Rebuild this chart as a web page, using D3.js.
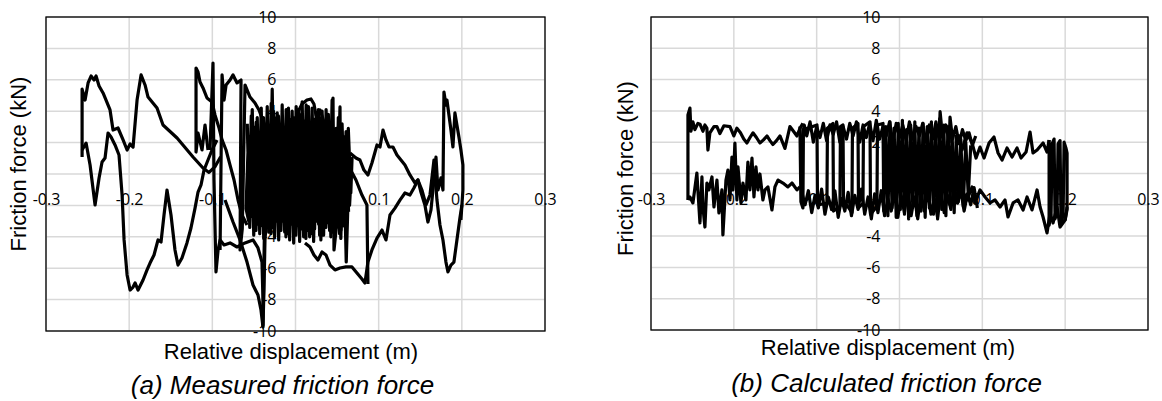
<!DOCTYPE html>
<html>
<head>
<meta charset="utf-8">
<script src="https://cdn.jsdelivr.net/npm/d3@7"></script>
<style>
  body { margin: 0; background: #fff; }
</style>
</head>
<body>
<svg id="chart" width="1162" height="401"></svg>
<script>
// axis ticks
const xTicks = [-0.3, -0.2, -0.1, 0, 0.1, 0.2, 0.3];
const yTicks = [-10, -8, -6, -4, -2, 0, 2, 4, 6, 8, 10];
const xTickLabels = [-0.3, -0.2, -0.1, 0.1, 0.2, 0.3];
const yTickLabels = [-10, -8, -6, -4, -2, 2, 4, 6, 8, 10];

const xTitle = "Relative displacement (m)";
const yTitle = "Friction force (kN)";
const captions = ["(a) Measured friction force", "(b) Calculated friction force"];

// ---- (a) measured friction force, [displacement m, force kN] ----
const measuredLoopA = [[-0.2566,1.08],[-0.2566,5.41],[-0.2530,4.71],[-0.2494,5.80],[-0.2458,6.24],[-0.2422,5.99],[-0.2398,6.24],[-0.2362,5.61],[-0.2314,5.16],[-0.2278,4.71],[-0.2230,4.08],[-0.2194,2.80],[-0.2134,2.93],[-0.2073,2.17],[-0.2025,1.53],[-0.1989,1.91],[-0.1953,1.72],[-0.1905,4.71],[-0.1857,6.31],[-0.1809,5.67],[-0.1773,4.90],[-0.1665,4.20],[-0.1593,3.12],[-0.1424,2.29],[-0.1232,1.08],[-0.1112,0.38],[-0.1040,0.10],[-0.0970,0.45],[-0.0900,1.10]];
const measuredLoopA2 = [[-0.2566,1.53],[-0.2518,1.97],[-0.2470,0.57],[-0.2410,-1.97],[-0.2362,-0.25],[-0.2326,0.76],[-0.2290,1.02],[-0.2254,2.61],[-0.2218,2.36],[-0.2170,1.85],[-0.2122,1.21],[-0.2085,-1.34],[-0.2061,-4.20],[-0.2025,-6.43],[-0.1989,-7.39],[-0.1953,-7.20],[-0.1929,-6.94],[-0.1893,-7.39],[-0.1833,-6.75],[-0.1785,-6.11],[-0.1749,-5.67],[-0.1701,-5.16],[-0.1653,-4.20],[-0.1617,-4.33],[-0.1581,-2.61],[-0.1545,-1.02],[-0.1497,-2.61],[-0.1449,-4.84],[-0.1413,-5.80],[-0.1365,-5.35],[-0.1305,-4.39],[-0.1257,-3.44],[-0.1208,-2.17],[-0.1172,-1.15],[-0.1136,-0.70],[-0.1100,0.25],[-0.1052,0.89],[-0.1004,1.53],[-0.0944,2.17]];
const measuredLoopB = [[-0.1052,1.53],[-0.1088,3.12],[-0.1124,1.53],[-0.1172,2.61],[-0.1196,1.40],[-0.1196,6.75],[-0.1172,6.50],[-0.1148,5.86],[-0.1112,5.48],[-0.1064,4.84],[-0.1004,4.59],[-0.0968,3.76],[-0.0919,2.93],[-0.0883,2.17],[-0.0835,1.53],[-0.0787,0.57],[-0.0739,-0.38],[-0.0691,-1.66],[-0.0643,-2.61],[-0.0583,-3.25]];
const measuredLoopB2 = [[-0.0907,-4.84],[-0.0895,0.89],[-0.0883,6.31],[-0.0859,4.71],[-0.0835,5.67],[-0.0787,5.99],[-0.0751,6.31],[-0.0703,5.80],[-0.0655,5.99],[-0.0667,-4.84],[-0.0640,-3.50],[-0.0607,5.67],[-0.0547,4.90],[-0.0487,4.52],[-0.0439,4.08],[-0.0403,3.57],[-0.0355,2.93],[-0.0307,2.17],[-0.0247,1.21]];
const measuredSpike = [[-0.1028,1.53],[-0.0992,7.07],[-0.0980,-0.38],[-0.0956,-6.24],[-0.0931,-4.84],[-0.0907,-4.20],[-0.0859,-4.52],[-0.0787,-4.39],[-0.0703,-4.65],[-0.0607,-4.39],[-0.0511,-4.20],[-0.0451,-4.71],[-0.0403,-5.61],[-0.0391,-8.03],[-0.0391,-9.62],[-0.0379,-7.39],[-0.0367,-4.20],[-0.0343,-2.50]];
const measuredDrop = [[-0.0847,-1.66],[-0.0751,-3.06],[-0.0667,-4.20],[-0.0583,-5.61],[-0.0511,-7.07],[-0.0451,-7.71],[-0.0415,-8.66],[-0.0391,-9.75],[-0.0379,-5.48],[-0.0367,-1.66]];
// dense central part, going right, back left, then right again
const measuredCore = [[-0.058,3.2],[-0.055,-3.4],[-0.052,4.1],[-0.049,-2.9],[-0.046,3.6],[-0.043,-3.8],[-0.040,2.8],[-0.037,-3.5],[-0.034,4.3],[-0.031,-3.1],[-0.028,5.4],[-0.025,-4.0],[-0.022,3.9],[-0.019,-3.3],[-0.016,4.4],[-0.013,-3.7],[-0.010,3.3],[-0.007,-4.2],[-0.004,4.0],[-0.001,-3.6],[0.002,3.7],[0.005,-4.3],[0.008,4.6],[0.011,-3.2],[0.014,3.9],[0.017,-4.0],[0.020,4.2],[0.023,-3.5],[0.026,3.4],[0.029,-3.9],[0.032,4.0],[0.035,-2.8],[0.038,3.1],[0.041,-3.6],[0.044,4.7],[0.047,-3.0],[0.050,2.6],[0.053,-3.8],[0.056,3.2],[0.059,-2.6],[0.062,2.3],[0.065,-2.0],[0.068,1.0],
  [0.0665,-1.2],[0.0635,2.9],[0.0605,-3.1],[0.0575,2.4],[0.0545,-4.1],[0.0515,3.6],[0.0485,-3.3],[0.0455,2.9],[0.0425,-4.0],[0.0395,3.8],[0.0365,-3.4],[0.0335,3.2],[0.0305,-4.2],[0.0275,4.1],[0.0245,-3.0],[0.0215,3.5],[0.0185,-3.8],[0.0155,4.3],[0.0125,-4.1],[0.0095,3.4],[0.0065,-3.5],[0.0035,4.1],[0.0005,-3.9],[-0.0025,3.6],[-0.0055,-3.2],[-0.0085,4.2],[-0.0115,-4.0],[-0.0145,3.0],[-0.0175,-3.6],[-0.0205,3.7],[-0.0235,-3.0],[-0.0265,4.0],[-0.0295,-3.8],[-0.0325,3.1],[-0.0355,-2.8],[-0.0385,3.6],[-0.0415,-3.3],[-0.0445,2.6],[-0.0475,-3.6],[-0.0505,3.0],[-0.0535,-2.7],[-0.0565,2.4],[-0.0595,-2.2],
  [-0.0562,-3.0],[-0.0532,3.7],[-0.0502,-3.9],[-0.0472,3.3],[-0.0442,-3.2],[-0.0412,4.2],[-0.0382,-4.1],[-0.0352,3.0],[-0.0322,-3.7],[-0.0292,4.5],[-0.0262,-3.4],[-0.0232,3.6],[-0.0202,-4.2],[-0.0172,3.2],[-0.0142,-3.0],[-0.0112,4.1],[-0.0082,-3.8],[-0.0052,3.5],[-0.0022,-4.4],[0.0008,4.3],[0.0038,-3.3],[0.0068,3.8],[0.0098,-4.0],[0.0128,4.4],[0.0158,-3.6],[0.0188,3.3],[0.0218,-4.3],[0.0248,3.9],[0.0278,-3.2],[0.0308,3.6],[0.0338,-3.9],[0.0368,4.1],[0.0398,-3.1],[0.0428,3.3],[0.0458,-3.7],[0.0488,2.9],[0.0518,-3.4],[0.0548,3.0],[0.0578,-3.3],[0.0608,2.7],[0.0638,-2.4]];
const measuredLoopTop = [[0.0006,2.80],[0.0030,3.95],[0.0078,4.46],[0.0138,4.71],[0.0186,4.78],[0.0222,4.46],[0.0246,3.76],[0.0295,4.08],[0.0355,3.12],[0.0415,2.17]];
const measuredSpikes2 = [[0.0439,-0.38],[0.0451,4.84],[0.0463,-4.84],[0.0499,-3.00],[0.0535,4.27],[0.0547,-3.57],[0.0583,0.50],[0.0610,-5.60],[0.0630,-2.00]];
const measuredMid = [[0.0631,0.57],[0.0727,-0.38],[0.0799,-1.34],[0.0859,-1.97],[0.0871,-7.00]];
const measuredRightUpper = [[0.0655,1.34],[0.0727,1.02],[0.0775,0.89],[0.0823,0.25],[0.0871,-0.06],[0.0919,0.70],[0.0980,1.85],[0.1016,1.72],[0.1052,2.80],[0.1088,2.17],[0.1124,1.72],[0.1172,1.72],[0.1220,1.21],[0.1268,0.89],[0.1316,0.57],[0.1376,-0.06],[0.1436,-0.57],[0.1472,-0.38],[0.1508,-1.15],[0.1556,-1.97],[0.1592,-3.06],[0.1629,-2.29],[0.1665,-0.38],[0.1689,1.08],[0.1713,-1.02],[0.1749,-0.25],[0.1773,-1.02],[0.1785,5.22],[0.1809,4.39],[0.1821,4.71],[0.1845,3.76],[0.1869,2.80],[0.1893,1.72],[0.1917,3.89],[0.1941,3.12],[0.1965,2.36],[0.1989,1.53],[0.2013,0.57],[0.2013,-1.02],[0.1989,-2.93]];
const measuredRightLower = [[0.0114,-4.39],[0.0174,-4.65],[0.0222,-5.16],[0.0270,-5.48],[0.0319,-4.97],[0.0367,-5.16],[0.0415,-5.80],[0.0475,-6.11],[0.0535,-5.99],[0.0607,-5.92],[0.0679,-5.92],[0.0739,-6.31],[0.0799,-6.69],[0.0835,-6.94],[0.0871,-5.61],[0.0919,-4.84],[0.0980,-4.08],[0.1040,-3.57],[0.1088,-4.20],[0.1136,-2.61],[0.1196,-2.17],[0.1256,-1.66],[0.1316,-1.21],[0.1376,-1.34],[0.1424,-0.89],[0.1472,-0.38],[0.1520,-1.02],[0.1569,-1.97],[0.1617,-1.34],[0.1665,0.89],[0.1701,-1.66],[0.1737,-3.25],[0.1773,-4.20],[0.1809,-5.61],[0.1833,-6.24],[0.1869,-5.80],[0.1905,-5.61],[0.1941,-4.20],[0.1977,-2.80],[0.2001,-1.97]];

// ---- (b) calculated friction force ----
const calcUpperLeft = [[-0.2554,-1.69],[-0.2554,3.74],[-0.2530,4.18],[-0.2518,2.70],[-0.2494,3.30],[-0.2470,2.80],[-0.2434,3.20],[-0.2409,3.15],[-0.2373,2.70],[-0.2349,3.10],[-0.2325,2.90],[-0.2313,1.50],[-0.2289,2.60],[-0.2240,3.00],[-0.2204,3.00],[-0.2168,2.55],[-0.2120,3.05],[-0.2047,3.00],[-0.2000,2.40],[-0.1963,2.90],[-0.1920,2.60],[-0.1880,2.20],[-0.1842,1.95],[-0.1805,2.30],[-0.1769,2.60],[-0.1727,2.30],[-0.1685,1.95],[-0.1642,2.15],[-0.1600,2.40],[-0.1564,2.10],[-0.1528,1.85],[-0.1485,2.10],[-0.1443,2.40],[-0.1413,2.00],[-0.1383,1.60],[-0.1353,2.30],[-0.1323,3.00],[-0.1280,2.70],[-0.1238,2.40],[-0.1200,2.90],[-0.1166,3.20]];
const calcLowerLeft = [[-0.2554,-1.69],[-0.2530,-1.50],[-0.2494,-1.88],[-0.2446,0.03],[-0.2434,-1.05],[-0.2409,-3.16],[-0.2385,-0.22],[-0.2373,-2.14],[-0.2349,-3.42],[-0.2325,-0.61],[-0.2301,-1.05],[-0.2264,-0.22],[-0.2240,-2.14],[-0.2204,-0.42],[-0.2180,-2.52],[-0.2144,-1.05],[-0.2132,-3.93],[-0.2095,-0.42],[-0.2071,0.22],[-0.2047,-1.69],[-0.2023,1.05],[-0.2011,-1.05],[-0.1987,1.95],[-0.1963,-1.69],[-0.1950,0.42],[-0.1914,-1.88],[-0.1890,-0.61],[-0.1854,-1.69],[-0.1830,0.73],[-0.1806,-1.05],[-0.1781,0.99],[-0.1757,-1.50],[-0.1733,0.42],[-0.1709,-1.05],[-0.1685,-0.03],[-0.1649,-1.69],[-0.1624,-1.05],[-0.1588,-0.86],[-0.1540,-2.33],[-0.1504,-0.86],[-0.1467,-0.42],[-0.1407,-0.61],[-0.1347,-0.86],[-0.1298,-0.61],[-0.1238,-1.05],[-0.1202,-0.86]];
const calcDenseTop = [[-0.118,2.1],[-0.115,3.1],[-0.112,2.4],[-0.108,3.3],[-0.104,2.0],[-0.100,3.0],[-0.096,2.3],[-0.092,3.2],[-0.088,2.1],[-0.084,3.1],[-0.080,2.5],[-0.076,3.3],[-0.072,2.0],[-0.068,3.0],[-0.064,2.2],[-0.060,3.2],[-0.056,2.4],[-0.052,3.3],[-0.048,2.0],[-0.044,3.1],[-0.040,2.3],[-0.036,3.2],[-0.032,2.1],[-0.028,3.4],[-0.024,2.2],[-0.020,3.0],[-0.016,2.4],[-0.012,3.3],[-0.008,2.0],[-0.004,3.2],[0.000,2.3],[0.004,3.1],[0.008,2.1],[0.012,3.3],[0.016,2.2],[0.020,3.0],[0.024,2.4],[0.028,3.2],[0.032,2.0],[0.036,3.1],[0.040,2.2],[0.044,3.3],[0.048,2.1],[0.049,3.95],[0.052,2.3],[0.056,3.1],[0.060,2.0],[0.061,3.6],[0.064,2.2],[0.068,3.0],[0.072,1.9],[0.076,2.8],[0.080,2.1],[0.084,2.6],[0.088,1.8],[0.092,2.4]];
const calcDenseBottom = [[-0.118,-1.2],[-0.114,-2.0],[-0.110,-1.1],[-0.106,-2.5],[-0.102,-1.4],[-0.098,-2.2],[-0.094,-1.0],[-0.090,-2.6],[-0.086,-1.5],[-0.082,-2.3],[-0.078,-1.1],[-0.074,-2.8],[-0.070,-1.6],[-0.066,-2.4],[-0.062,-1.2],[-0.058,-2.7],[-0.054,-1.4],[-0.050,-2.3],[-0.046,-1.0],[-0.042,-2.6],[-0.038,-1.5],[-0.034,-2.9],[-0.030,-1.3],[-0.026,-2.5],[-0.022,-1.1],[-0.018,-2.7],[-0.014,-1.6],[-0.010,-2.4],[-0.006,-1.2],[-0.002,-2.8],[0.002,-1.4],[0.006,-2.5],[0.010,-1.0],[0.014,-2.7],[0.018,-1.5],[0.022,-2.9],[0.026,-1.3],[0.030,-2.4],[0.034,-1.1],[0.038,-2.6],[0.042,-1.6],[0.046,-2.8],[0.050,-1.2],[0.054,-2.5],[0.058,-1.4],[0.062,-2.3],[0.066,-0.8],[0.070,-1.9],[0.074,-1.1],[0.078,-2.4],[0.082,-1.3],[0.086,-2.0],[0.090,-0.9],[0.094,-2.2]];
const calcDenseVert = [[-0.1202,3.0],[-0.1190,-1.8],[-0.1166,-2.2],[-0.1160,2.8],[-0.0996,3.1],[-0.0990,-2.0],[-0.0876,-1.9],[-0.0870,2.9],[-0.0803,3.2],[-0.0797,-2.4],[-0.0719,-2.1],[-0.0713,3.0],[-0.0682,3.1],[-0.0676,-1.7],[-0.0574,-2.5],[-0.0568,2.9],[-0.0501,3.2],[-0.0495,-2.2],[-0.0441,-1.9],[-0.0435,3.0],[-0.0356,3.3],[-0.0350,-2.6],[-0.0272,-2.1],[-0.0266,3.1],[-0.0199,3.2],[-0.0190,-2.4],[-0.0165,3.0],[-0.0140,-2.7],[-0.0115,3.3],[-0.0090,-2.2],[-0.0065,2.9],[-0.0040,-2.8],[-0.0015,3.2],[0.0010,-2.3],[0.0035,3.4],[0.0060,-2.6],[0.0085,2.8],[0.0110,-2.9],[0.0135,3.1],[0.0160,-2.1],[0.0185,3.3],[0.0210,-2.7],[0.0235,2.9],[0.0260,-2.4],[0.0285,3.2],[0.0310,-2.8],[0.0335,3.0],[0.0360,-2.2],[0.0385,3.3],[0.0410,-2.6],[0.0435,2.8],[0.0460,-2.9],[0.0485,3.5],[0.0510,-2.3],[0.0535,3.1],[0.0560,-2.7],[0.0585,3.0],[0.0610,-2.0],[0.0635,2.6],[0.0660,-2.5],[0.0685,2.4],[0.0710,-1.8],[0.0740,2.2],[0.0770,-2.1],[0.0800,2.0],[0.0830,-1.4],[0.0860,1.8]];
const calcUpperRight = [[0.0707,2.50],[0.0755,1.50],[0.0815,2.60],[0.0876,1.95],[0.0924,0.99],[0.0972,1.69],[0.1021,0.99],[0.1081,1.95],[0.1141,2.33],[0.1190,1.31],[0.1238,0.86],[0.1298,1.63],[0.1359,1.05],[0.1419,1.63],[0.1467,0.99],[0.1528,1.37],[0.1576,2.65],[0.1612,1.31],[0.1661,1.50],[0.1733,1.95],[0.1781,1.37],[0.1806,2.14]];
const calcLowerRight = [[0.0707,-0.22],[0.0755,-1.05],[0.0815,-1.69],[0.0876,-0.86],[0.0912,-1.88],[0.0972,-1.05],[0.1033,-1.50],[0.1093,-1.88],[0.1153,-1.69],[0.1214,-2.14],[0.1274,-1.69],[0.1310,-2.78],[0.1371,-1.88],[0.1431,-1.69],[0.1492,-2.33],[0.1540,-1.50],[0.1600,-2.33],[0.1661,-1.05],[0.1697,-2.14],[0.1733,-2.78],[0.1781,-3.80],[0.1818,-2.52],[0.1854,-3.16],[0.1902,-2.14],[0.1938,-3.42],[0.1999,-2.97],[0.2023,-2.14]];
const calcRightBox = [[0.1806,2.14],[0.1806,-3.30],[0.1830,-2.60],[0.1842,1.90],[0.1866,2.20],[0.1878,-2.90],[0.1902,-2.50],[0.1914,1.90],[0.1938,2.10],[0.1950,-3.20],[0.1975,-2.60],[0.1987,2.00],[0.2011,1.60],[0.2023,1.30],[0.2023,-2.30],[0.1999,-3.00]];

const measuredSeries = [measuredLoopA, measuredLoopA2, measuredLoopB, measuredLoopB2, measuredSpike, measuredDrop, measuredCore, measuredLoopTop, measuredSpikes2, measuredMid, measuredRightUpper, measuredRightLower];
const calcSeries = [calcUpperLeft, calcLowerLeft, calcDenseTop, calcDenseBottom, calcDenseVert, calcUpperRight, calcLowerRight, calcRightBox];

const svg = d3.select("#chart");

// panel layout
const panels = [
  { left: 46, right: 545, top: 17, bottom: 331, yTitleX: 26, yTitleY: 164, xTitleX: 291, xTitleY: 359, capX: 282.5, capY: 394, series: measuredSeries, caption: captions[0] },
  { left: 651, right: 1148, top: 17, bottom: 330, yTitleX: 633, yTitleY: 168.5, xTitleX: 888, xTitleY: 355, capX: 886.5, capY: 392, series: calcSeries, caption: captions[1] }
];

function drawPanel(p){
  const g = svg.append("g");
  const x = d3.scaleLinear().domain([-0.3, 0.3]).range([p.left, p.right]);
  const y = d3.scaleLinear().domain([-10, 10]).range([p.bottom, p.top]);

  // gridlines
  g.selectAll(".vgrid").data(xTicks).join("line")
    .attr("x1", d => x(d)).attr("x2", d => x(d))
    .attr("y1", p.top).attr("y2", p.bottom)
    .attr("stroke", "#d9d9d9").attr("stroke-width", 1.5);
  g.selectAll(".hgrid").data(yTicks).join("line")
    .attr("x1", p.left).attr("x2", p.right)
    .attr("y1", d => y(d)).attr("y2", d => y(d))
    .attr("stroke", "#d9d9d9").attr("stroke-width", 1.5);

  // tick labels, axes cross at the origin
  const xAxis = g.append("g")
    .attr("transform", `translate(0,${y(0)})`)
    .call(d3.axisBottom(x).tickValues(xTickLabels).tickFormat(d => String(d)).tickSize(0).tickPadding(20));
  xAxis.select(".domain").remove();
  const yAxis = g.append("g")
    .attr("transform", `translate(${x(0)},0)`)
    .call(d3.axisLeft(y).tickValues(yTickLabels).tickFormat(d => String(d)).tickSize(0).tickPadding(19));
  yAxis.select(".domain").remove();
  g.selectAll(".tick text")
    .attr("font-family", "'Open Sans', sans-serif")
    .attr("font-size", 16)
    .attr("fill", "#000");

  // plot border
  g.append("rect")
    .attr("x", p.left).attr("y", p.top)
    .attr("width", p.right - p.left).attr("height", p.bottom - p.top)
    .attr("fill", "none").attr("stroke", "#000").attr("stroke-width", 1.3);

  // data
  const line = d3.line().x(d => x(d[0])).y(d => y(d[1]));
  g.selectAll(".trace").data(p.series).join("path")
    .attr("d", line)
    .attr("fill", "none")
    .attr("stroke", "#000")
    .attr("stroke-width", 3.2)
    .attr("stroke-linejoin", "round");

  // titles
  g.append("text")
    .attr("x", p.xTitleX).attr("y", p.xTitleY)
    .attr("text-anchor", "middle")
    .attr("font-family", "'Liberation Sans', Arial, sans-serif")
    .attr("font-size", 22)
    .text(xTitle);
  g.append("text")
    .attr("transform", `translate(${p.yTitleX},${p.yTitleY}) rotate(-90)`)
    .attr("text-anchor", "middle")
    .attr("font-family", "'Liberation Sans', Arial, sans-serif")
    .attr("font-size", 22)
    .text(yTitle);
  g.append("text")
    .attr("x", p.capX).attr("y", p.capY)
    .attr("text-anchor", "middle")
    .attr("font-family", "'Liberation Sans', Arial, sans-serif")
    .attr("font-style", "italic")
    .attr("font-size", 26)
    .text(p.caption);
}

panels.forEach(drawPanel);
</script>
</body>
</html>
